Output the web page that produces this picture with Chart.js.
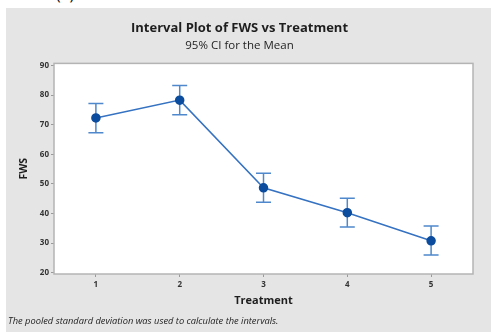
<!DOCTYPE html>
<html>
<head>
<meta charset="utf-8">
<script src="https://cdn.jsdelivr.net/npm/chart.js@4.4.1/dist/chart.umd.min.js"></script>
<style>
  body { margin: 0; background: #ffffff; width: 491px; height: 332px; overflow: hidden; position: relative; }
  #panel { position: absolute; left: 6px; top: 8px; width: 485px; height: 324px; background: #e5e5e5; }
  #wrap { position: absolute; left: 0; top: 0; width: 485px; height: 324px; }
  #note { position: absolute; left: 2px; top: 306px; font-family: "Open Sans", sans-serif; font-style: italic; font-size: 9.3px; color: #222; white-space: nowrap; }
  #tag { position: absolute; left: 56px; top: -17px; font-family: "Open Sans", sans-serif; font-size: 16px; color: #111; }
</style>
</head>
<body>
<div id="tag">(a)</div>
<div id="panel">
  <div id="wrap"><canvas id="chart"></canvas></div>
  <div id="note">The pooled standard deviation was used to calculate the intervals.</div>
</div>
<script>
// data
const treatments = [1, 2, 3, 4, 5];
const means = [72.3, 78.3, 48.7, 40.3, 30.8];
const lower = [67.3, 73.4, 43.8, 35.5, 26.0];
const upper = [77.2, 83.2, 53.6, 45.2, 35.8];
const yTicks = [20, 30, 40, 50, 60, 70, 80, 90];

const points = treatments.map((t, i) => ({ x: t, y: means[i] }));

// white plot area with grey frame
const frame = {
    id: 'frame',
    beforeDraw(chart) {
        const { ctx, chartArea: a } = chart;
        ctx.save();
        ctx.fillStyle = '#ffffff';
        ctx.fillRect(a.left, a.top, a.right - a.left, a.bottom - a.top);
        ctx.restore();
    },
    afterDraw(chart) {
        const { ctx, chartArea: a } = chart;
        ctx.save();
        ctx.strokeStyle = '#b4b4b4';
        ctx.lineWidth = 1.5;
        ctx.strokeRect(a.left, a.top, a.right - a.left, a.bottom - a.top);
        ctx.restore();
    }
};

// 95% CI bars, drawn under the line and markers
const ciBars = {
    id: 'ciBars',
    beforeDatasetsDraw(chart) {
        const { ctx, scales } = chart;
        ctx.save();
        ctx.strokeStyle = '#4f88cc';
        ctx.lineWidth = 1.5;
        treatments.forEach((t, i) => {
            const x = scales.x.getPixelForValue(t);
            const yl = scales.y.getPixelForValue(lower[i]);
            const yu = scales.y.getPixelForValue(upper[i]);
            ctx.beginPath();
            ctx.moveTo(x, yl); ctx.lineTo(x, yu);
            ctx.moveTo(x - 7.5, yl); ctx.lineTo(x + 7.5, yl);
            ctx.moveTo(x - 7.5, yu); ctx.lineTo(x + 7.5, yu);
            ctx.stroke();
        });
        ctx.restore();
    }
};

const tickFont = { family: 'Open Sans', size: 8, weight: '700' };

new Chart(document.getElementById('chart'), {
    type: 'line',
    data: {
        datasets: [{
            data: points,
            borderColor: '#3572c2',
            borderWidth: 1.5,
            pointBackgroundColor: '#0b4c9e',
            pointBorderColor: '#0b4c9e',
            pointRadius: 4,
            tension: 0
        }]
    },
    options: {
        responsive: true,
        maintainAspectRatio: false,
        animation: false,
        layout: { padding: { left: 0, right: 18, top: 0, bottom: 0 } },
        plugins: {
            legend: { display: false },
            tooltip: { enabled: false },
            title: {
                display: true,
                text: 'Interval Plot of FWS vs Treatment',
                color: '#1e1e1e',
                font: { family: 'Open Sans', size: 13, weight: '700' },
                padding: { top: 12, bottom: 0 }
            },
            subtitle: {
                display: true,
                text: '95% CI for the Mean',
                color: '#1e1e1e',
                font: { family: 'Open Sans', size: 11.5, weight: '400' },
                padding: { top: 3, bottom: 11 }
            }
        },
        scales: {
            x: {
                type: 'linear',
                min: 0.5,
                max: 5.5,
                afterBuildTicks(scale) {
                    scale.ticks = treatments.map(v => ({ value: v }));
                },
                afterFit(scale) { scale.height = 58; },
                grid: { drawOnChartArea: false, drawTicks: true, tickLength: 3, color: '#999' },
                border: { display: false },
                ticks: { color: '#333', font: tickFont, padding: 3 },
                title: {
                    display: true,
                    text: 'Treatment',
                    color: '#1e1e1e',
                    font: { family: 'Open Sans', size: 11, weight: '700' },
                    padding: { top: 0, bottom: 25 }
                }
            },
            y: {
                min: 19.6,
                max: 90.7,
                afterBuildTicks(scale) {
                    scale.ticks = yTicks.map(v => ({ value: v }));
                },
                afterFit(scale) { scale.width = 48; },
                grid: { drawOnChartArea: false, drawTicks: true, tickLength: 3, color: '#999' },
                border: { display: false },
                ticks: { color: '#333', font: tickFont, padding: 2 },
                title: {
                    display: true,
                    text: 'FWS',
                    color: '#1e1e1e',
                    font: { family: 'Open Sans', size: 10.5, weight: '700' },
                    padding: { top: 12, bottom: 0 }
                }
            }
        }
    },
    plugins: [frame, ciBars]
});
</script>
</body>
</html>
